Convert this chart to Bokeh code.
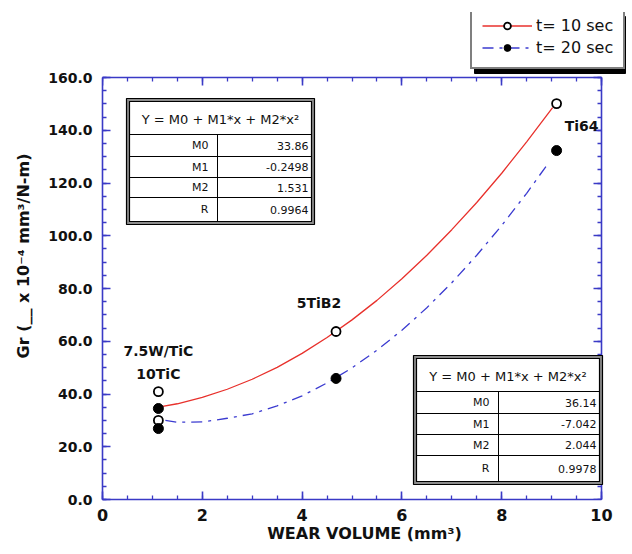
from bokeh.plotting import figure
from bokeh.models import (Range1d, SingleIntervalTicker, PrintfTickFormatter, LinearAxis,
                          Legend, LegendItem, BoxAnnotation, Label, CustomJSTickFormatter)
from bokeh.embed import file_html
from bokeh.resources import INLINE

# ---------------- data ----------------
t10_x = [1.12, 1.12, 4.68, 9.10]
t10_y = [40.9, 30.0, 63.7, 150.1]
t20_x = [1.12, 1.12, 4.68, 9.10]
t20_y = [34.5, 26.9, 45.9, 132.3]

curve10_x = [1.12, 1.5, 2.0, 2.5, 3.0, 3.5, 4.0, 4.5, 5.0, 5.5, 6.0, 6.5, 7.0, 7.5, 8.0, 8.5, 9.02]
curve10_y = [35.0, 36.3, 38.7, 41.8, 45.6, 50.1, 55.4, 61.4, 68.1, 75.5, 83.7, 92.6, 102.3,
             112.6, 123.7, 135.6, 148.6]
curve20_x = [1.26, 1.5, 2.0, 2.5, 3.0, 3.5, 4.0, 4.5, 5.0, 5.5, 6.0, 6.5, 7.0, 7.5, 8.0, 8.5, 8.9]
curve20_y = [30.0, 29.3, 29.4, 30.8, 32.5, 35.5, 39.3, 44.2, 49.9, 56.6, 64.2, 72.7, 82.2,
             92.6, 103.9, 116.1, 126.6]

series_names = ["t= 10 sec", "t= 20 sec"]
fit_title = "Y = M0 + M1*x + M2*x\u00b2"
fit_terms = ["M0", "M1", "M2", "R"]
fit10_vals = ["33.86", "-0.2498", "1.531", "0.9964"]
fit20_vals = ["36.14", "-7.042", "2.044", "0.9978"]

point_labels = ["7.5W/TiC", "10TiC", "5TiB2", "Ti64"]

x_label = "WEAR VOLUME (mm\u00b3)"
y_label = "Gr (__ x 10\u207b\u2074 mm\u00b3/N-m)"

X_MIN, X_MAX = 0, 10
Y_MIN, Y_MAX = 0, 160

# ---------------- styling / layout ----------------
AXIS_BLUE = "#3a3ac6"
RED = "#e8312c"
BLUE = "#3b3bd0"
FONT = "DejaVu Sans"

# The frame is larger than the axis box so that the legend above the box is drawn;
# the axis box (0..10, 0..160) spans canvas px 102..601 x 77..499.
FL, FB = 102, 499          # frame left / bottom on the canvas
FRAME_W, FRAME_H = 524, 487
BOX_W, BOX_H = 499, 422    # pixel size of the axis box


def sx(px):
    return px - FL


def sy(py):
    return FB - py


p = figure(output_backend="svg", toolbar_location=None,
           frame_width=FRAME_W, frame_height=FRAME_H,
           x_range=Range1d(X_MIN, X_MIN + (X_MAX - X_MIN) * FRAME_W / BOX_W),
           y_range=Range1d(Y_MIN, Y_MIN + (Y_MAX - Y_MIN) * FRAME_H / BOX_H),
           min_border_left=FL, min_border_right=4, min_border_top=FB - FRAME_H,
           min_border_bottom=53)
p.grid.visible = False
p.outline_line_color = None

xt = SingleIntervalTicker(interval=2, num_minor_ticks=4)
yt = SingleIntervalTicker(interval=20, num_minor_ticks=4)


def style_axis(ax):
    ax.axis_line_color = AXIS_BLUE
    ax.axis_line_width = 1.6
    ax.major_tick_line_color = AXIS_BLUE
    ax.minor_tick_line_color = AXIS_BLUE
    ax.major_tick_line_width = 1.6
    ax.minor_tick_line_width = 1.3
    ax.major_tick_in = 8
    ax.major_tick_out = 0
    ax.minor_tick_in = 4
    ax.minor_tick_out = 0


xa = p.xaxis[0]
xa.ticker = xt
xa.bounds = (X_MIN, X_MAX)
style_axis(xa)
xa.major_label_text_font = FONT
xa.major_label_text_font_style = "bold"
xa.major_label_text_font_size = "16px"
xa.major_label_text_color = "#111111"
xa.major_label_standoff = 9
xa.axis_label = x_label
xa.axis_label_text_font = FONT
xa.axis_label_text_font_style = "bold"
xa.axis_label_text_font_size = "16px"
xa.axis_label_text_color = "#111111"
xa.axis_label_standoff = 0

ya = p.yaxis[0]
ya.ticker = yt
ya.bounds = (Y_MIN, Y_MAX)
style_axis(ya)
ya.formatter = PrintfTickFormatter(format="%.1f")
ya.major_label_text_font = FONT
ya.major_label_text_font_style = "bold"
ya.major_label_text_font_size = "14px"
ya.major_label_text_color = "#111111"
ya.major_label_standoff = 10
ya.axis_label = y_label
ya.axis_label_text_font = FONT
ya.axis_label_text_font_style = "bold"
ya.axis_label_text_font_size = "16px"
ya.axis_label_text_color = "#111111"
ya.axis_label_standoff = 12

blank = CustomJSTickFormatter(code="return ''")
top = LinearAxis(ticker=xt, fixed_location=Y_MAX, bounds=(X_MIN, X_MAX), formatter=blank)
style_axis(top)
p.add_layout(top, "above")
right = LinearAxis(ticker=yt, fixed_location=X_MAX, bounds=(Y_MIN, Y_MAX), formatter=blank)
style_axis(right)
p.add_layout(right, "right")

# ---------------- curves and points ----------------
l10 = p.line(curve10_x, curve10_y, line_color=RED, line_width=1.3)
l20 = p.line(curve20_x, curve20_y, line_color=BLUE, line_width=1.3, line_dash="11 6 3 6")
c10 = p.scatter(t10_x, t10_y, marker="circle", size=9, fill_color="white",
                line_color="black", line_width=1.8)
c20 = p.scatter(t20_x, t20_y, marker="circle", size=10, fill_color="black",
                line_color="black", line_width=1)

# ---------------- point labels ----------------
lab_specs = [
    (point_labels[0], t10_x[0], t10_y[0], 0, 41),
    (point_labels[1], t10_x[0], t10_y[0], 0, 18),
    (point_labels[2], t10_x[2], t10_y[2], -17, 28),
    (point_labels[3], t10_x[3], t10_y[3], 25, -22),
]
for txt, x, y, dx, dy in lab_specs:
    p.add_layout(Label(x=x, y=y, x_offset=dx, y_offset=dy, text=txt,
                       text_align="center", text_baseline="middle",
                       text_font=FONT, text_font_style="bold",
                       text_font_size="14px", text_color="#111111"))


# ---------------- fit tables ----------------
def box(l, t, r, b, fill, line, lw=1.0):
    p.add_layout(BoxAnnotation(left=sx(l), right=sx(r), top=sy(t), bottom=sy(b),
                               left_units="screen", right_units="screen",
                               top_units="screen", bottom_units="screen",
                               fill_color=fill, fill_alpha=1.0,
                               line_color=line, line_width=lw, line_alpha=1.0))


def text(x, y, s, align, size):
    p.add_layout(Label(x=sx(x), y=sy(y), x_units="screen", y_units="screen", text=s,
                       text_align=align, text_baseline="middle", text_font=FONT,
                       text_font_size=size, text_color="#111111"))


def table(outer, inner, col_x, row_edges, values):
    ol, ot, orr, ob = outer
    il, it, ir, ib = inner
    box(ol, ot, orr, ob, "#8c8c8c", "black", 1.2)
    box(il, it, ir, ib, "white", "black", 1.2)
    box(il, it, ir, row_edges[0], None, "black", 1.0)
    text((il + ir) / 2, (it + row_edges[0]) / 2 + 1, fit_title, "center", "13px")
    edges = list(row_edges) + [ib]
    for i in range(len(fit_terms)):
        t, b = edges[i], edges[i + 1]
        box(il, t, col_x, b, None, "black", 1.0)
        box(col_x, t, ir, b, None, "black", 1.0)
        text(col_x - 9, (t + b) / 2, fit_terms[i], "right", "11px")
        text(ir - 3, (t + b) / 2, values[i], "right", "11px")


table((126, 98, 314, 224), (129, 101, 311, 221), 217, [134, 156, 177, 197], fit10_vals)
table((413, 355, 602, 484), (416, 358, 599, 481), 498, [391, 413, 434, 455], fit20_vals)

# ---------------- legend with drop shadow ----------------
box(474, 16, 625, 73, "black", "black", 1.0)
legend = Legend(items=[LegendItem(label=series_names[0], renderers=[l10, c10]),
                       LegendItem(label=series_names[1], renderers=[l20, c20])],
                location=(sx(470), sy(69)),
                label_text_font=FONT, label_text_font_size="16px",
                label_text_color="#111111",
                glyph_width=50, glyph_height=17, spacing=3, padding=10,
                label_standoff=4, margin=0,
                border_line_color="black", border_line_width=2,
                background_fill_color="white", background_fill_alpha=1.0)
p.add_layout(legend, "center")

open("out.html", "w").write(file_html(p, INLINE))
